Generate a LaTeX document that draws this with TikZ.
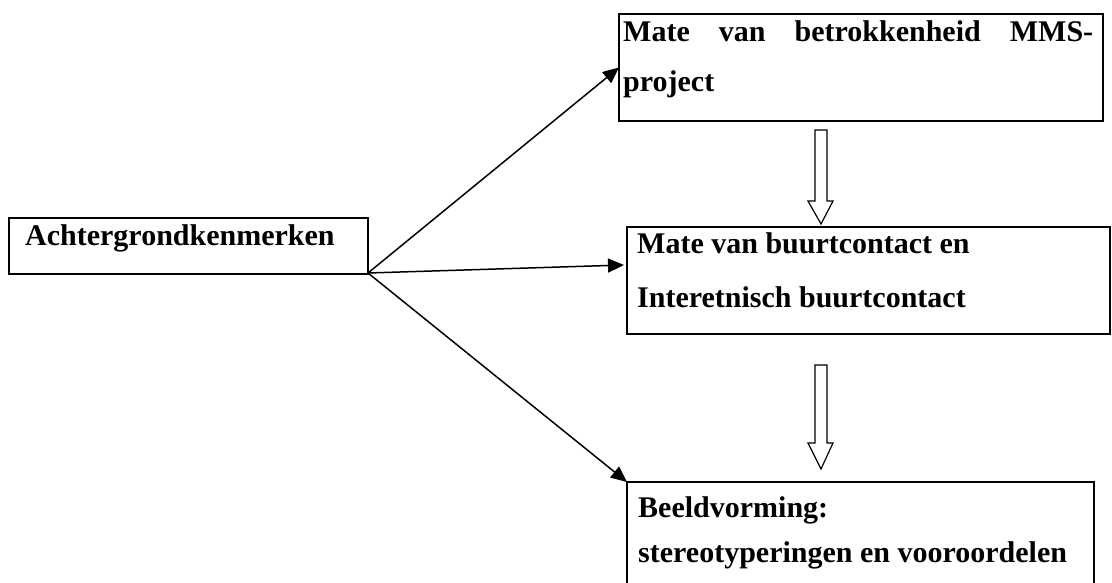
\documentclass[tikz,border=0pt]{standalone}
\usepackage{fontspec}
\setmainfont{Liberation Serif}
\usetikzlibrary{arrows.meta}
\begin{document}
\begin{tikzpicture}[x=1pt,y=-1pt,
  box/.style={draw, line width=2pt, anchor=north west, inner sep=0pt, outer sep=0pt},
  lbl/.style={anchor=base west, inner sep=0pt, font=\fontsize{30}{36}\selectfont\bfseries},
  link/.style={line width=1.5pt, -{Triangle[length=16pt,width=14pt]}},
  hollow/.style={draw, line width=1.2pt, fill=white, line join=miter}]
\useasboundingbox (0,0) rectangle (1112,583);
% boxes
\node[box, minimum width=359pt, minimum height=56pt] (left) at (9,218) {};
\node[box, minimum width=484pt, minimum height=107pt] (top) at (619,14) {};
\node[box, minimum width=483pt, minimum height=107pt] (mid) at (627,227) {};
\node[box, minimum width=467pt, minimum height=130pt] (bot) at (627,482) {};
% texts
\node[lbl] (t0) at (25,245) {Achtergrondkenmerken};
\node[lbl] (t1a) at (623,42) {\makebox[470pt][s]{Mate van betrokkenheid MMS-}};
\node[lbl] (t1b) at (623,92) {project};
\node[lbl] (t2a) at (637,254) {Mate van buurtcontact en};
\node[lbl] (t2b) at (637,307) {Interetnisch buurtcontact};
\node[lbl] (t3a) at (638,517) {Beeldvorming:};
\node[lbl] (t3b) at (638,562) {stereotyperingen en vooroordelen};
% connectors
\coordinate (src) at (368,273);
\coordinate (midin) at (624,265);
\draw[link] (src) -- (top.west);
\draw[link] (src) -- (midin);
\draw[link] (src) -- (bot.north west);
% hollow arrows
\draw[hollow] (815,130) -- (827,130) -- (827,201) -- (833,201) -- (821,224) -- (808,201) -- (815,201) -- cycle;
\draw[hollow] (815,365) -- (827,365) -- (827,443) -- (833,443) -- (821,469) -- (808,443) -- (815,443) -- cycle;
\end{tikzpicture}
\end{document}
